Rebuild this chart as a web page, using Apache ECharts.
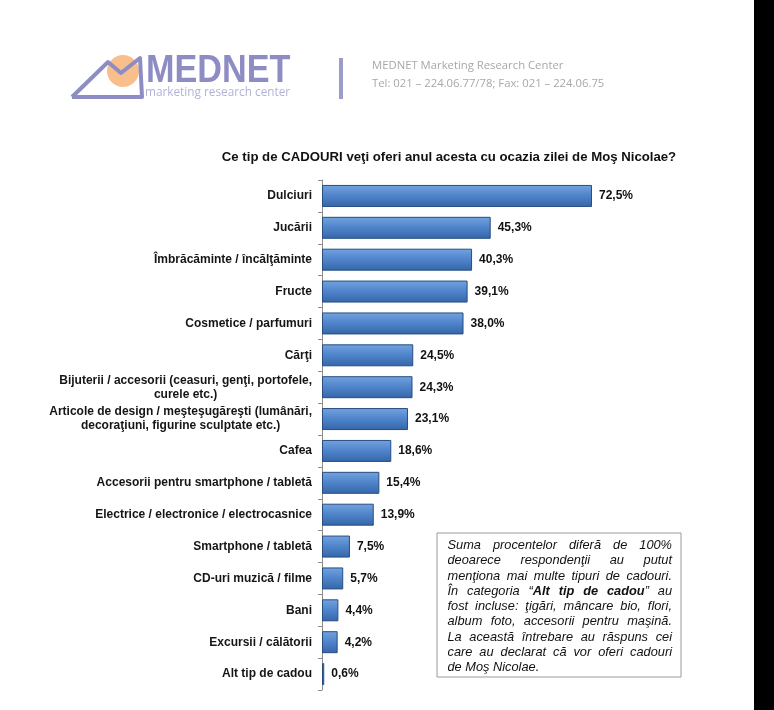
<!DOCTYPE html>
<html>
<head>
<meta charset="utf-8">
<script src="https://cdn.jsdelivr.net/npm/echarts@6/dist/echarts.min.js"></script>
<style>
html,body{margin:0;padding:0;background:#fff;}
#chart{width:774px;height:710px;}
</style>
</head>
<body>
<div id="chart"></div>
<script>
const categories = [
  'Dulciuri',
  'Jucării',
  'Îmbrăcăminte / încălţăminte',
  'Fructe',
  'Cosmetice / parfumuri',
  'Cărţi',
  'Bijuterii / accesorii (ceasuri, genţi, portofele,\ncurele etc.)',
  'Articole de design / meşteşugăreşti (lumânări,\ndecoraţiuni, figurine sculptate etc.)',
  'Cafea',
  'Accesorii pentru smartphone / tabletă',
  'Electrice / electronice / electrocasnice',
  'Smartphone / tabletă',
  'CD-uri muzică / filme',
  'Bani',
  'Excursii / călătorii',
  'Alt tip de cadou'
];
const values = [72.5, 45.3, 40.3, 39.1, 38.0, 24.5, 24.3, 23.1, 18.6, 15.4, 13.9, 7.5, 5.7, 4.4, 4.2, 0.6];
const titleText = 'Ce tip de CADOURI veţi oferi anul acesta cu ocazia zilei de Moş Nicolae?';
const headerLines = ['MEDNET Marketing Research Center', 'Tel: 021 – 224.06.77/78; Fax: 021 – 224.06.75'];
const noteLines = [
  'Suma procentelor diferă de 100%',
  'deoarece respondenţii au putut',
  'menţiona mai multe tipuri de cadouri.',
  'În categoria “**Alt tip de cadou**” au',
  'fost incluse: ţigări, mâncare bio, flori,',
  'album foto, accesorii pentru maşină.',
  'La această întrebare au răspuns cei',
  'care au declarat că vor oferi cadouri',
  'de Moş Nicolae.'
];

const FONT = '"Liberation Sans", Arial, sans-serif';
const chart = echarts.init(document.getElementById('chart'));

// ---- justified note text ----
const cv = document.createElement('canvas').getContext('2d');
const noteSize = 12.8;
function fontStr(bold){ return 'italic ' + (bold ? 'bold ' : '') + noteSize + 'px ' + FONT; }
function measure(t, bold){ cv.font = fontStr(bold); return cv.measureText(t).width; }
const noteGraphics = [];
const boxL = 437, boxT = 533, boxW = 244, boxH = 144;
const textL = 447.5, textR = 672, line0 = 545.5, lineStep = 15.25;
noteLines.forEach((line, li) => {
  let bold = false;
  const words = line.split(' ').map(w => {
    const parts = [];
    w.split('**').forEach((seg, i) => {
      if (i > 0) bold = !bold;
      if (seg) parts.push({t: seg, b: bold});
    });
    const width = parts.reduce((s, p) => s + measure(p.t, p.b), 0);
    return {parts, width};
  });
  const total = words.reduce((s, w) => s + w.width, 0);
  const last = li === noteLines.length - 1;
  const gap = (!last && words.length > 1) ? (textR - textL - total) / (words.length - 1) : measure(' ', false);
  let x = textL;
  const y = line0 + li * lineStep;
  words.forEach(w => {
    let px = x;
    w.parts.forEach(p => {
      noteGraphics.push({
        type: 'text', x: px, y: y, silent: true,
        style: {text: p.t, fontSize: noteSize, fontStyle: 'italic', fontWeight: p.b ? 'bold' : 'normal',
          fontFamily: FONT, fill: '#111', verticalAlign: 'middle', align: 'left'}
      });
      px += measure(p.t, p.b);
    });
    x += w.width + gap;
  });
});

const barColor = new echarts.graphic.LinearGradient(0, 0, 0, 1, [
  {offset: 0, color: '#73a3e0'},
  {offset: 0.45, color: '#5286cc'},
  {offset: 1, color: '#3466a8'}
]);

const option = {
  backgroundColor: '#ffffff',
  animation: false,
  grid: {left: 322, top: 180, width: 372.4, height: 510, containLabel: false},
  xAxis: {type: 'value', min: 0, max: 100, show: false},
  yAxis: {
    type: 'category', inverse: true, data: categories,
    axisLine: {show: true, lineStyle: {color: '#8c8c8c', width: 1}},
    axisTick: {show: true, length: 4, lineStyle: {color: '#8c8c8c'}},
    axisLabel: {
      margin: 10, color: '#151515', fontFamily: FONT, fontWeight: 'bold', fontSize: 12, lineHeight: 14,
      formatter: v => v.split('\n').map(s => '{c|' + s + '}').join('\n'),
      rich: {c: {align: 'center', fontFamily: FONT, fontWeight: 'bold', fontSize: 12, lineHeight: 14, color: '#151515'}}
    },
    splitLine: {show: false}
  },
  series: [{
    type: 'bar', data: values, barCategoryGap: '31%',
    itemStyle: {color: barColor, borderColor: '#264d80', borderWidth: 1},
    label: {
      show: true, position: 'right', distance: 7, color: '#111', fontFamily: FONT,
      fontWeight: 'bold', fontSize: 12,
      formatter: p => p.value.toFixed(1).replace('.', ',') + '%'
    }
  }],
  graphic: [
    {type: 'rect', shape: {x: 754, y: 0, width: 20, height: 710}, style: {fill: '#000'}, silent: true},
    // logo envelope
    {type: 'circle', shape: {cx: 123, cy: 71, r: 16}, style: {fill: '#f8bf8c'}, silent: true},
    {type: 'polyline', shape: {points: [[72, 97], [108, 62], [121, 73], [140, 58], [142, 97], [72, 97]]},
      style: {stroke: '#8d8dc4', lineWidth: 4, fill: null, lineJoin: 'round'}, silent: true},
    {type: 'text', x: 146, y: 72, scaleX: 0.9, silent: true,
      style: {text: 'MEDNET', fontFamily: FONT, fontWeight: 'bold', fontSize: 38, fill: '#8d8dc4', verticalAlign: 'middle'}},
    {type: 'text', x: 145, y: 93, silent: true,
      style: {text: 'marketing research center', fontFamily: '"Open Sans", sans-serif', fontSize: 11.8, fill: '#b2b2d6', verticalAlign: 'middle'}},
    {type: 'rect', shape: {x: 339, y: 58, width: 4, height: 41}, style: {fill: '#9c9cca'}, silent: true},
    {type: 'text', x: 372, y: 66, silent: true,
      style: {text: headerLines[0], fontFamily: '"Open Sans", sans-serif', fontSize: 11.3, fill: '#a8a8a8', verticalAlign: 'middle'}},
    {type: 'text', x: 372, y: 84, silent: true,
      style: {text: headerLines[1], fontFamily: '"Open Sans", sans-serif', fontSize: 11.3, fill: '#a8a8a8', verticalAlign: 'middle'}},
    // title
    {type: 'text', x: 449, y: 157, silent: true,
      style: {text: titleText, fontFamily: FONT, fontWeight: 'bold', fontSize: 13.2, fill: '#111', align: 'center', verticalAlign: 'middle'}},
    // note box
    {type: 'rect', shape: {x: boxL, y: boxT, width: boxW, height: boxH}, style: {fill: '#fff', stroke: '#9a9a9a', lineWidth: 1}, silent: true}
  ].concat(noteGraphics)
};
chart.setOption(option);
</script>
</body>
</html>
